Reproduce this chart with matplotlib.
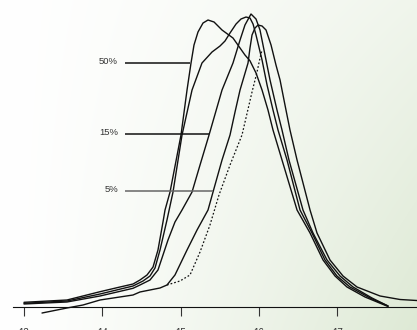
import numpy as np
import matplotlib
matplotlib.use("Agg")
import matplotlib.pyplot as plt

# ---- data (x = value on axis, y = relative frequency, peak ~100) ----
a_x = [13.000, 13.549, 13.971, 14.226, 14.392, 14.481, 14.571, 14.648, 14.711, 14.775,
       14.801, 14.865, 15.005, 15.082, 15.133, 15.171, 15.222, 15.286, 15.350, 15.427,
       15.529, 15.669, 15.822, 15.886, 15.963, 16.040, 16.116, 16.180, 16.295, 16.487,
       16.653, 16.819, 16.972, 17.125, 17.355, 17.649]
a_y = [1.72, 2.52, 5.38, 7.00, 8.03, 9.41, 11.14, 13.90, 19.76, 29.41,
       33.55, 39.76, 59.41, 74.93, 84.24, 90.45, 94.93, 98.03, 99.07, 98.38,
       95.62, 92.86, 87.00, 85.00, 80.80, 74.93, 68.03, 61.14, 50.79, 33.55,
       25.62, 16.31, 10.79, 7.00, 3.55, 0.28]

b_x = [13.000, 13.549, 13.971, 14.392, 14.520, 14.609, 14.673, 14.737, 14.826, 14.903,
       15.018, 15.146, 15.273, 15.401, 15.503, 15.567, 15.631, 15.708, 15.771, 15.835,
       15.886, 15.925, 15.963, 16.040, 16.104, 16.180, 16.244, 16.359, 16.525, 16.678,
       16.844, 16.997, 17.163, 17.419, 17.649]
b_y = [1.38, 2.17, 4.59, 7.34, 9.07, 10.79, 13.55, 19.76, 30.10, 39.76,
       59.41, 74.93, 84.24, 88.03, 90.10, 91.83, 94.59, 97.69, 99.41, 100.10,
       99.76, 97.69, 93.90, 85.28, 76.66, 68.03, 61.14, 50.79, 33.55, 25.62,
       16.31, 10.79, 7.00, 3.21, 0.45]

c_x = [13.000, 13.549, 13.971, 14.392, 14.481, 14.609, 14.711, 14.775, 14.839, 14.928,
       15.018, 15.146, 15.248, 15.363, 15.529, 15.669, 15.759, 15.822, 15.899, 15.963,
       16.014, 16.078, 16.142, 16.231, 16.295, 16.384, 16.563, 16.691, 16.870, 17.036,
       17.202, 17.444, 17.649]
c_y = [1.14, 1.83, 3.90, 6.55, 7.69, 9.41, 12.86, 18.03, 23.21, 29.41,
       33.55, 39.76, 49.07, 59.41, 74.93, 84.24, 92.17, 97.34, 101.14, 99.41,
       95.62, 87.00, 78.38, 68.03, 61.14, 50.79, 33.55, 25.62, 16.31, 10.79,
       7.00, 3.21, 0.45]

d_x = [13.230, 13.549, 13.753, 13.971, 14.392, 14.481, 14.737, 14.826, 14.928, 15.082,
       15.210, 15.350, 15.414, 15.529, 15.631, 15.695, 15.759, 15.861, 15.886, 15.912,
       15.950, 15.989, 16.040, 16.091, 16.155, 16.218, 16.270, 16.333, 16.397, 16.487,
       16.653, 16.742, 16.908, 17.074, 17.253, 17.547, 17.802, 18.019]
d_y = [-1.97, -0.24, 0.79, 2.52, 4.24, 5.28, 6.66, 7.69, 11.14, 19.76,
       26.66, 33.55, 39.76, 50.79, 59.41, 67.34, 74.93, 84.24, 89.41, 93.90,
       96.31, 97.34, 97.00, 95.62, 90.45, 83.55, 78.38, 69.76, 61.14, 50.79,
       33.55, 25.62, 16.31, 10.79, 7.00, 3.90, 2.69, 2.34]

dot_x = [14.826, 14.992, 15.120, 15.248, 15.375, 15.490, 15.631, 15.784, 15.912, 15.976,
         16.014, 16.040]
dot_y = [7.69, 9.07, 11.14, 19.07, 28.38, 38.72, 49.07, 59.41, 74.24, 81.14,
         85.97, 88.72]

x_ticks = [13, 14, 15, 16, 17]
label_names = ["50%", "15%", "5%"]

# ---- figure ----
W, H = 417, 330
fig = plt.figure(figsize=(W / 100, H / 100), dpi=100)

# background gradient: white on the left to pale green on the right
bg = fig.add_axes([0, 0, 1, 1], zorder=-1)
tx = np.linspace(0, 1, W)[None, :]
ty = np.linspace(0, 1, H)[:, None]
g = np.clip(tx ** 1.3 * (0.45 + 0.55 * ty), 0, 1)
white = np.array([1.0, 1.0, 1.0])
green = np.array([0.870, 0.915, 0.835])
img = white[None, None, :] * (1 - g[..., None]) + green[None, None, :] * g[..., None]
bg.imshow(img, aspect="auto", extent=[0, 1, 0, 1], origin="upper")
bg.set_axis_off()

ax = fig.add_axes([13 / W, 22.7 / H, 1 - 13 / W, 307.3 / H])
ax.patch.set_alpha(0)
ax.set_xlim(12.8595, 18.019)
ax.set_ylim(0, 105.97)

lw = 1.0
for xs, ys in [(a_x, a_y), (b_x, b_y), (c_x, c_y), (d_x, d_y)]:
    ax.plot(xs, ys, color="#111111", lw=lw, clip_on=False, solid_capstyle="round",
            solid_joinstyle="round")
ax.plot(dot_x, dot_y, color="#111111", lw=0.9, linestyle=(0, (1.4, 1.6)), clip_on=False)

# label leader lines
leaders = [(label_names[0], 84.24, 15.12, "#111111"),
           (label_names[1], 59.76, 15.36, "#111111"),
           (label_names[2], 40.10, 15.41, "#666666")]
for name, yv, xend, col in leaders:
    ax.plot([14.29, xend], [yv, yv], color=col, lw=1.1, solid_capstyle="butt")
    ax.text(14.20, yv + 0.4, name, ha="right", va="center", fontsize=6.8,
            color="#333333", family=["Liberation Sans", "DejaVu Sans"])

for s in ["left", "right", "top"]:
    ax.spines[s].set_visible(False)
ax.spines["bottom"].set_color("#111111")
ax.spines["bottom"].set_linewidth(0.8)
ax.set_yticks([])
ax.set_xticks(x_ticks)
ax.set_xticklabels([str(t) for t in x_ticks], fontsize=7, color="#333333",
                   family=["Liberation Sans", "DejaVu Sans"])
ax.tick_params(axis="x", length=6.8, width=0.8, color="#333333", pad=8.0, direction="out")

fig.savefig("out.png", dpi=100)
